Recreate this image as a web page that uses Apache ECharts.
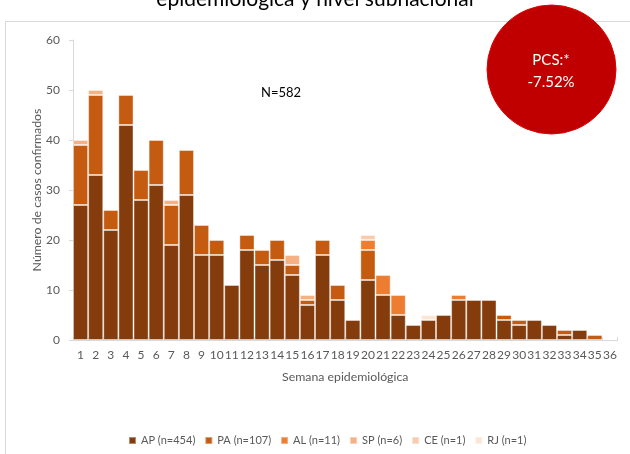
<!DOCTYPE html>
<html><head><meta charset="utf-8">
<script src="https://cdn.jsdelivr.net/npm/echarts@6/dist/echarts.min.js"></script>
<style>html,body{margin:0;padding:0;background:#fff}#c{width:630px;height:454px}</style>
</head><body><div id="c"></div>
<script>
const weeks = Array.from({length:36},(_,i)=>String(i+1));
const AP = [27,33,22,43,28,31,19,29,17,17,11,18,15,16,13,7,17,8,4,12,9,5,3,4,5,8,8,8,4,3,4,3,1,2,0,0];
const PA = [12,16,4,6,6,9,8,9,6,3,0,3,3,4,2,1,3,3,0,6,0,0,0,0,0,0,0,0,1,1,0,0,1,0,1,0];
const AL = [0,0,0,0,0,0,0,0,0,0,0,0,0,0,0,0,0,0,0,2,4,4,0,0,0,1,0,0,0,0,0,0,0,0,0,0];
const SP = [1,1,0,0,0,0,1,0,0,0,0,0,0,0,2,1,0,0,0,0,0,0,0,0,0,0,0,0,0,0,0,0,0,0,0,0];
const CE = [0,0,0,0,0,0,0,0,0,0,0,0,0,0,0,0,0,0,0,1,0,0,0,0,0,0,0,0,0,0,0,0,0,0,0,0];
const RJ = [0,0,0,0,0,0,0,0,0,0,0,0,0,0,0,0,0,0,0,0,0,0,0,1,0,0,0,0,0,0,0,0,0,0,0,0];
const seriesNames = ['AP (n=454)','PA (n=107)','AL (n=11)','SP (n=6)','CE (n=1)','RJ (n=1)'];
const seriesData = [AP,PA,AL,SP,CE,RJ];
const colors = ['#843C0C','#C55A11','#ED7D31','#F4B183','#F8CBAD','#FBE5D6'];
const FONT = 'Lato';
const chart = echarts.init(document.getElementById('c'));
chart.setOption({
  animation:false,
  textStyle:{fontFamily:FONT},
  graphic:[
    {type:'rect',shape:{x:5.5,y:21.5,width:640,height:450},style:{fill:'none',stroke:'#d9d9d9',lineWidth:1},z:-1},
    {type:'text',x:315,y:10,style:{text:'epidemiológica y nivel subnacional',fontSize:21,fontFamily:FONT,fill:'#000',textAlign:'center',textVerticalAlign:'bottom'}},
    {type:'text',x:281,y:93,style:{text:'N=582',fontSize:13,fontFamily:FONT,fill:'#000',textAlign:'center',textVerticalAlign:'middle'}},
    {type:'circle',shape:{cx:551.5,cy:69.5,r:64.5},style:{fill:'#C00000',stroke:'#e00000',lineWidth:1},z:10},
    {type:'text',x:551,y:60,z:11,style:{text:'PCS:*',fontSize:15,fontFamily:FONT,fill:'#fff',textAlign:'center',textVerticalAlign:'middle'}},
    {type:'text',x:551,y:82,z:11,style:{text:'-7.52%',fontSize:15,fontFamily:FONT,fill:'#fff',textAlign:'center',textVerticalAlign:'middle'}}
  ],
  legend:{bottom:3,left:123,itemWidth:7,itemHeight:7,itemGap:9,icon:'rect',
    textStyle:{fontSize:11,color:'#595959',fontFamily:FONT},data:seriesNames},
  grid:{left:73,right:12.5,top:40,bottom:114},
  xAxis:{type:'category',data:weeks,
    axisLine:{lineStyle:{color:'#d9d9d9'}},
    axisTick:{show:true,inside:true,length:3,lineStyle:{color:'#d9d9d9'}},
    axisLabel:{color:'#595959',fontSize:12,margin:9,interval:0},
    name:'Semana epidemiológica',nameLocation:'middle',nameGap:31,nameMoveOverlap:false,
    nameTextStyle:{color:'#595959',fontSize:12.3}},
  yAxis:{type:'value',min:0,max:60,interval:10,
    axisLine:{show:true,lineStyle:{color:'#d9d9d9'}},
    axisTick:{show:true,length:4,lineStyle:{color:'#d9d9d9'}},
    splitLine:{show:false},
    axisLabel:{color:'#595959',fontSize:12,margin:13},
    name:'Número de casos confirmados',nameLocation:'middle',nameGap:30,nameMoveOverlap:false,
    nameTextStyle:{color:'#595959',fontSize:12.3}},
  series: seriesNames.map((n,i)=>({
    name:n,type:'bar',stack:'t',barCategoryGap:'0%',
    data:seriesData[i].map(v=>v===0?null:v),
    itemStyle:{color:colors[i],borderColor:'rgba(255,255,255,0.4)',borderWidth:1}
  }))
});
</script></body></html>
